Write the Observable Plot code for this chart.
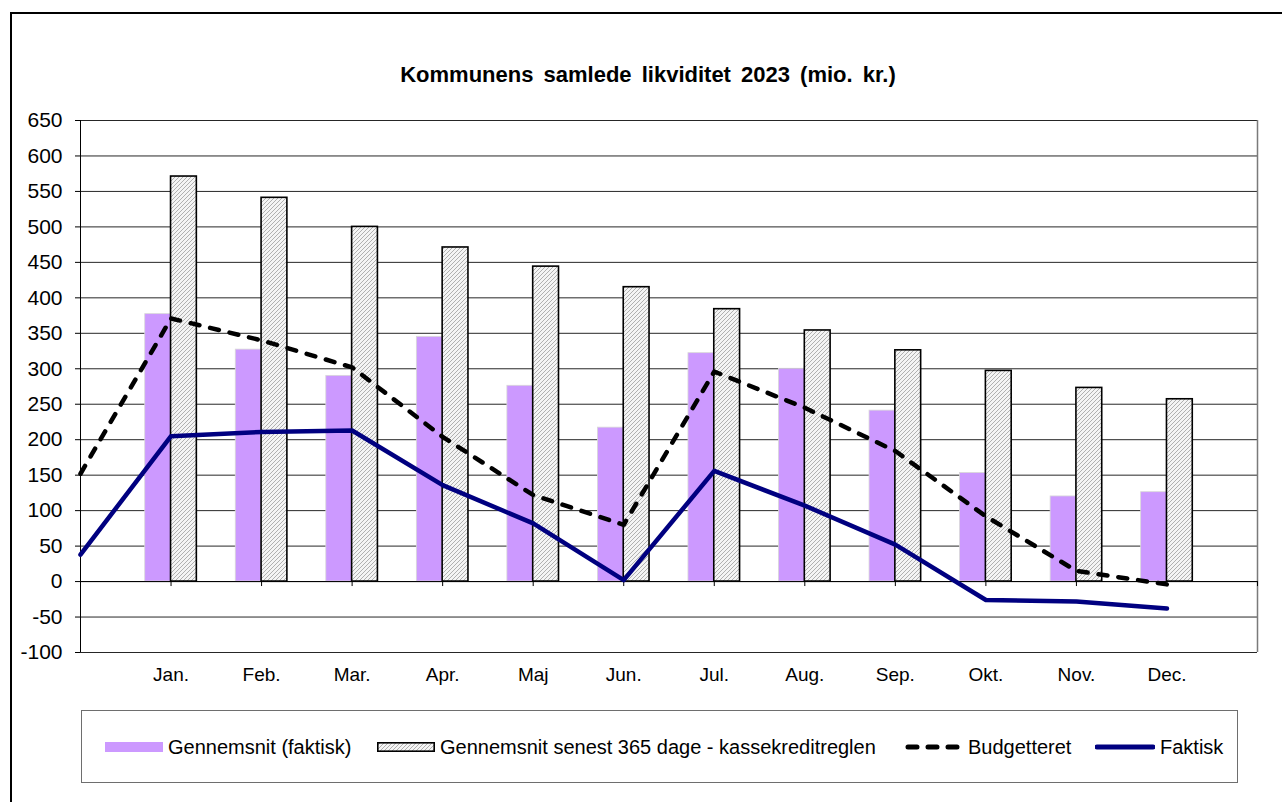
<!DOCTYPE html>
<html>
<head>
<meta charset="utf-8">
<script src="https://cdn.jsdelivr.net/npm/d3@7"></script>
<script src="https://cdn.jsdelivr.net/npm/@observablehq/plot@0.6"></script>
<style>
  body { margin: 0; background: #fff; }
  #wrap { position: relative; width: 1282px; height: 802px; overflow: hidden; background: #fff; font-family: "Liberation Sans", Arial, sans-serif; color: #000; }
  #frame { position: absolute; left: 10px; top: 12px; width: 1300px; height: 840px; border: 2px solid #000; }
  #chart { position: absolute; left: 0; top: 0; }
  #title { position: absolute; top: 62px; left: 0; width: 1296px; text-align: center; font-weight: bold; font-size: 22px; word-spacing: 4px; }
  #legendbox { position: absolute; left: 81px; top: 710px; width: 1155px; height: 71px; border: 1.5px solid #6e6e6e; background: #fff; }
  .li { position: absolute; top: 736px; height: 22px; display: flex; align-items: center; font-size: 20px; white-space: nowrap; }
  .li svg { margin-right: 5px; }
</style>
</head>
<body>
<div id="wrap">
  <div id="frame"></div>
  <div id="chart"></div>
  <div id="title">Kommunens samlede likviditet 2023 (mio. kr.)</div>
  <div id="legendbox"></div>
  <div id="legend"></div>
</div>
<script>
// Category labels
const months = ["Jan.", "Feb.", "Mar.", "Apr.", "Maj", "Jun.", "Jul.", "Aug.", "Sep.", "Okt.", "Nov.", "Dec."];
// Bars (one per month)
const avgActual = [377, 327, 290, 345, 276, 217, 322, 300, 241, 153, 120, 126];
const avg365 = [571, 541, 500, 471, 444, 415, 384, 354, 326, 297, 273, 257];
// Lines (starting value before January, then one per month)
const budget = [152, 371, 340, 302, 204, 122, 80, 296, 245, 184, 92, 15, -4];
const actual = [38, 205, 211, 213, 136, 82, 2, 156, 107, 52, -26, -28, -38];
// Y tick values
const yTicks = d3.range(-100, 651, 50);

const seriesNames = ["Gennemsnit (faktisk)", "Gennemsnit senest 365 dage - kassekreditreglen", "Budgetteret", "Faktisk"];

const barData = months.map((m, i) => ({pos: i + 1, month: m, avg: avgActual[i], avg365: avg365[i]}));
const budgetData = budget.map((v, i) => ({pos: i, v}));
const actualData = actual.map((v, i) => ({pos: i, v}));
const halfW = 0.285;

const chart = Plot.plot({
  width: 1282,
  height: 802,
  marginLeft: 80,
  marginRight: 25,
  marginTop: 120,
  marginBottom: 150,
  x: {domain: [0, 13]},
  y: {domain: [-100, 650]},
  style: {background: "none", fontFamily: "'Liberation Sans', Arial, sans-serif", fontSize: "20px", color: "#000"},
  marks: [
    Plot.ruleY(yTicks, {stroke: "#000", strokeWidth: 1, strokeOpacity: 0.85}),
    Plot.ruleX([13], {stroke: "#7a7a7a", strokeWidth: 1.5}),
    Plot.rect(barData, {x1: d => d.pos - halfW, x2: d => d.pos, y1: 0, y2: "avg", fill: "#cc99ff", stroke: "#d8d8d8", strokeWidth: 0.8}),
    Plot.rect(barData, {x1: d => d.pos, x2: d => d.pos + halfW, y1: 0, y2: "avg365", fill: "url(#hatch)", stroke: "#000", strokeWidth: 1.6}),
    Plot.ruleY([0], {stroke: "#000", strokeWidth: 1}),
    Plot.ruleX(d3.range(0, 14), {y1: 0, y2: -7, stroke: "#000", strokeWidth: 1}),
    Plot.ruleX([0], {stroke: "#000", strokeWidth: 1}),
    Plot.line(budgetData, {x: "pos", y: "v", stroke: "#000", strokeWidth: 4.5, strokeDasharray: "9,11", strokeLinecap: "round", strokeLinejoin: "round"}),
    Plot.line(actualData, {x: "pos", y: "v", stroke: "#000080", strokeWidth: 4.5, strokeLinecap: "round", strokeLinejoin: "round"}),
    Plot.axisY({ticks: yTicks, tickFormat: d => String(d), tickSize: 5, tickPadding: 13, label: null, fontSize: 21, stroke: "#000"}),
    Plot.axisX({ticks: d3.range(1, 13), tickFormat: i => months[i - 1], tickSize: 0, tickPadding: 15, label: null, fontSize: 19})
  ]
});

const hatchDef = `<pattern id="hatch" patternUnits="userSpaceOnUse" width="4" height="4">
  <rect width="4" height="4" fill="#f4f4f4"></rect>
  <path d="M-1,1 l2,-2 M0,4 l4,-4 M3,5 l2,-2" stroke="#a8a8a8" stroke-width="0.9"></path>
</pattern>`;
d3.select(chart).insert("defs", ":first-child").html(hatchDef);
document.getElementById("chart").appendChild(chart);

// Legend
const legendItems = [
  {name: seriesNames[0], left: 105, sw: `<svg width="58" height="10"><rect width="58" height="10" fill="#cc99ff"></rect></svg>`},
  {name: seriesNames[1], left: 377, sw: `<svg width="58" height="10"><defs>${hatchDef.replace('id="hatch"', 'id="hatch2"')}</defs><rect x="0.8" y="0.8" width="56.4" height="8.4" fill="url(#hatch2)" stroke="#000" stroke-width="1.6"></rect></svg>`},
  {name: seriesNames[2], left: 905, sw: `<svg width="58" height="10"><line x1="3" y1="5" x2="56" y2="5" stroke="#000" stroke-width="5" stroke-dasharray="9,11" stroke-linecap="round"></line></svg>`},
  {name: seriesNames[3], left: 1095, sw: `<svg width="60" height="10"><line x1="2" y1="5" x2="58" y2="5" stroke="#000080" stroke-width="5" stroke-linecap="round"></line></svg>`}
];
const lg = document.getElementById("legend");
legendItems.forEach(it => {
  const d = document.createElement("div");
  d.className = "li";
  d.style.left = it.left + "px";
  d.innerHTML = it.sw + `<span>${it.name}</span>`;
  lg.appendChild(d);
});
</script>
</body>
</html>
